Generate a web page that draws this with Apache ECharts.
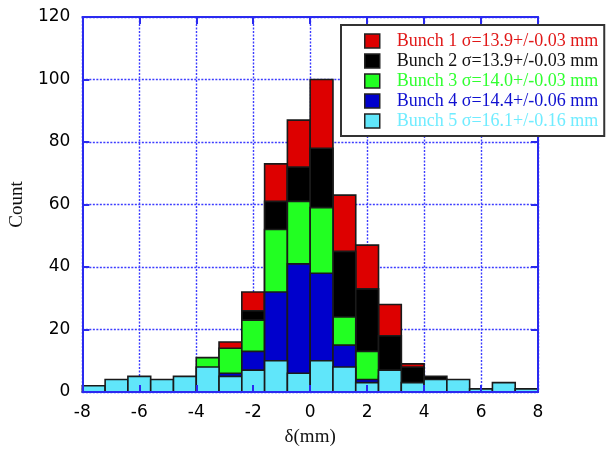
<!DOCTYPE html>
<html>
<head>
<meta charset="utf-8">
<script src="https://cdn.jsdelivr.net/npm/echarts@6/dist/echarts.min.js"></script>
<style>
  html, body { margin: 0; padding: 0; background: #fff; }
  #chart { width: 612px; height: 452px; }
</style>
</head>
<body>
<div id="chart"></div>
<script>
// histogram bins (left edges, mm) and bin width
const binStarts = [-8, -7.2, -6.4, -5.6, -4.8, -4.0, -3.2, -2.4, -1.6, -0.8,
                   0, 0.8, 1.6, 2.4, 3.2, 4.0, 4.8, 5.6, 6.4, 7.2];
const binWidth = 0.8;

// counts per bin, one array per bunch (drawn in this order, later on top)
const bunch1 = [0, 0, 0, 0, 1, 2, 16, 32, 73, 87, 100, 63, 47, 28, 9, 3, 1, 0, 0, 0];
const bunch2 = [0, 0, 0, 0, 0, 1, 10, 26, 61, 72, 78, 45, 33, 18, 8, 5, 1, 0, 0, 0];
const bunch3 = [0, 0, 0, 0, 1, 11, 14, 23, 52, 61, 59, 24, 13, 5, 2, 1, 0, 0, 0, 0];
const bunch4 = [0, 0, 0, 0, 0, 3, 6, 13, 32, 41, 38, 15, 4, 3, 1, 0, 0, 0, 0, 0];
const bunch5 = [2, 4, 5, 4, 5, 8, 5, 7, 10, 6, 10, 8, 3, 7, 3, 4, 4, 1, 3, 1];

const legendNames = [
  'Bunch 1 σ=13.9+/-0.03 mm',
  'Bunch 2 σ=13.9+/-0.03 mm',
  'Bunch 3 σ=14.0+/-0.03 mm',
  'Bunch 4 σ=14.4+/-0.06 mm',
  'Bunch 5 σ=16.1+/-0.16 mm',
];

const fillColors = ['#dd0000', '#000000', '#22ff22', '#0000cc', '#60e6fa'];
const textColors = ['#e01818', '#111111', '#30ff30', '#1010d0', '#70ecff'];

const chart = echarts.init(document.getElementById('chart'));

function makeSeries(name, counts, color) {
  return {
    name,
    type: 'custom',
    xAxisIndex: 0,
    yAxisIndex: 0,
    z: 2,
    itemStyle: { color },
    data: binStarts.map((x, i) => [x, x + binWidth, counts[i]]),
    renderItem: (params, api) => {
      const h = api.value(2);
      if (!h) return null;
      const p0 = api.coord([api.value(0), h]);
      const p1 = api.coord([api.value(1), 0]);
      return {
        type: 'rect',
        shape: { x: p0[0], y: p0[1], width: p1[0] - p0[0], height: p1[1] - p0[1] },
        style: { fill: color, stroke: '#1a1a1a', lineWidth: 1.6 },
      };
    },
  };
}

const axisBlue = '#2a2af0';
const gridBlue = '#3c3cff';
const gridLine = { show: true, lineStyle: { color: gridBlue, type: [2, 1.5], width: 1.4 } };
const labelFont = { color: '#000', fontSize: 17, fontFamily: 'DejaVu Sans' };

const option = {
  animation: false,
  grid: { left: 80, right: 74, top: 17, bottom: 58 },
  legend: {
    orient: 'vertical',
    left: 341,
    top: 25,
    width: 269,
    z: 30,
    padding: [7, 6, 6, 23],
    itemWidth: 15,
    itemHeight: 14,
    itemGap: 2,
    backgroundColor: '#fff',
    borderColor: '#333',
    borderWidth: 2,
    textStyle: { fontFamily: 'Liberation Serif', fontSize: 18, padding: [0, 0, 0, 12] },
    data: legendNames.map((n, i) => ({
      name: n,
      icon: 'rect',
      itemStyle: { color: fillColors[i], borderColor: '#222', borderWidth: 1.5 },
      textStyle: { color: textColors[i] },
    })),
  },
  xAxis: [
    { // grid lines only, behind bars
      type: 'value', min: -8, max: 8, interval: 2, z: 0,
      axisLine: { show: false }, axisTick: { show: false },
      axisLabel: { show: false },
      splitLine: gridLine,
    },
    { // bottom axis with labels
      type: 'value', min: -8, max: 8, interval: 2, position: 'bottom', z: 10,
      name: 'δ(mm)', nameLocation: 'middle', nameGap: 36,
      nameTextStyle: { color: '#111', fontSize: 19, fontFamily: 'Liberation Serif' },
      axisLine: { show: true, onZero: false, lineStyle: { color: axisBlue, width: 2 } },
      axisTick: { show: true, inside: true, length: 7, lineStyle: { color: axisBlue, width: 2 } },
      axisLabel: Object.assign({ margin: 12 }, labelFont),
      splitLine: { show: false },
    },
    { // top border
      type: 'value', min: -8, max: 8, interval: 2, position: 'top', z: 10,
      axisLine: { show: true, onZero: false, lineStyle: { color: axisBlue, width: 2 } },
      axisTick: { show: true, inside: true, length: 7, lineStyle: { color: axisBlue, width: 2 } },
      axisLabel: { show: false },
      splitLine: { show: false },
    },
  ],
  yAxis: [
    {
      type: 'value', min: 0, max: 120, interval: 20, z: 0,
      axisLine: { show: false }, axisTick: { show: false },
      axisLabel: { show: false },
      splitLine: gridLine,
    },
    {
      type: 'value', min: 0, max: 120, interval: 20, position: 'left', z: 10,
      name: 'Count', nameLocation: 'middle', nameGap: 38, nameRotate: 90,
      nameTextStyle: { color: '#111', fontSize: 19, fontFamily: 'Liberation Serif' },
      axisLine: { show: true, onZero: false, lineStyle: { color: axisBlue, width: 2 } },
      axisTick: { show: true, inside: true, length: 7, lineStyle: { color: axisBlue, width: 2 } },
      axisLabel: Object.assign({ margin: 12 }, labelFont),
      splitLine: { show: false },
    },
    {
      type: 'value', min: 0, max: 120, interval: 20, position: 'right', z: 10,
      axisLine: { show: true, onZero: false, lineStyle: { color: axisBlue, width: 2 } },
      axisTick: { show: true, inside: true, length: 7, lineStyle: { color: axisBlue, width: 2 } },
      axisLabel: { show: false },
      splitLine: { show: false },
    },
  ],
  series: [
    makeSeries(legendNames[0], bunch1, fillColors[0]),
    makeSeries(legendNames[1], bunch2, fillColors[1]),
    makeSeries(legendNames[2], bunch3, fillColors[2]),
    makeSeries(legendNames[3], bunch4, fillColors[3]),
    makeSeries(legendNames[4], bunch5, fillColors[4]),
  ],
};

chart.setOption(option);
</script>
</body>
</html>
